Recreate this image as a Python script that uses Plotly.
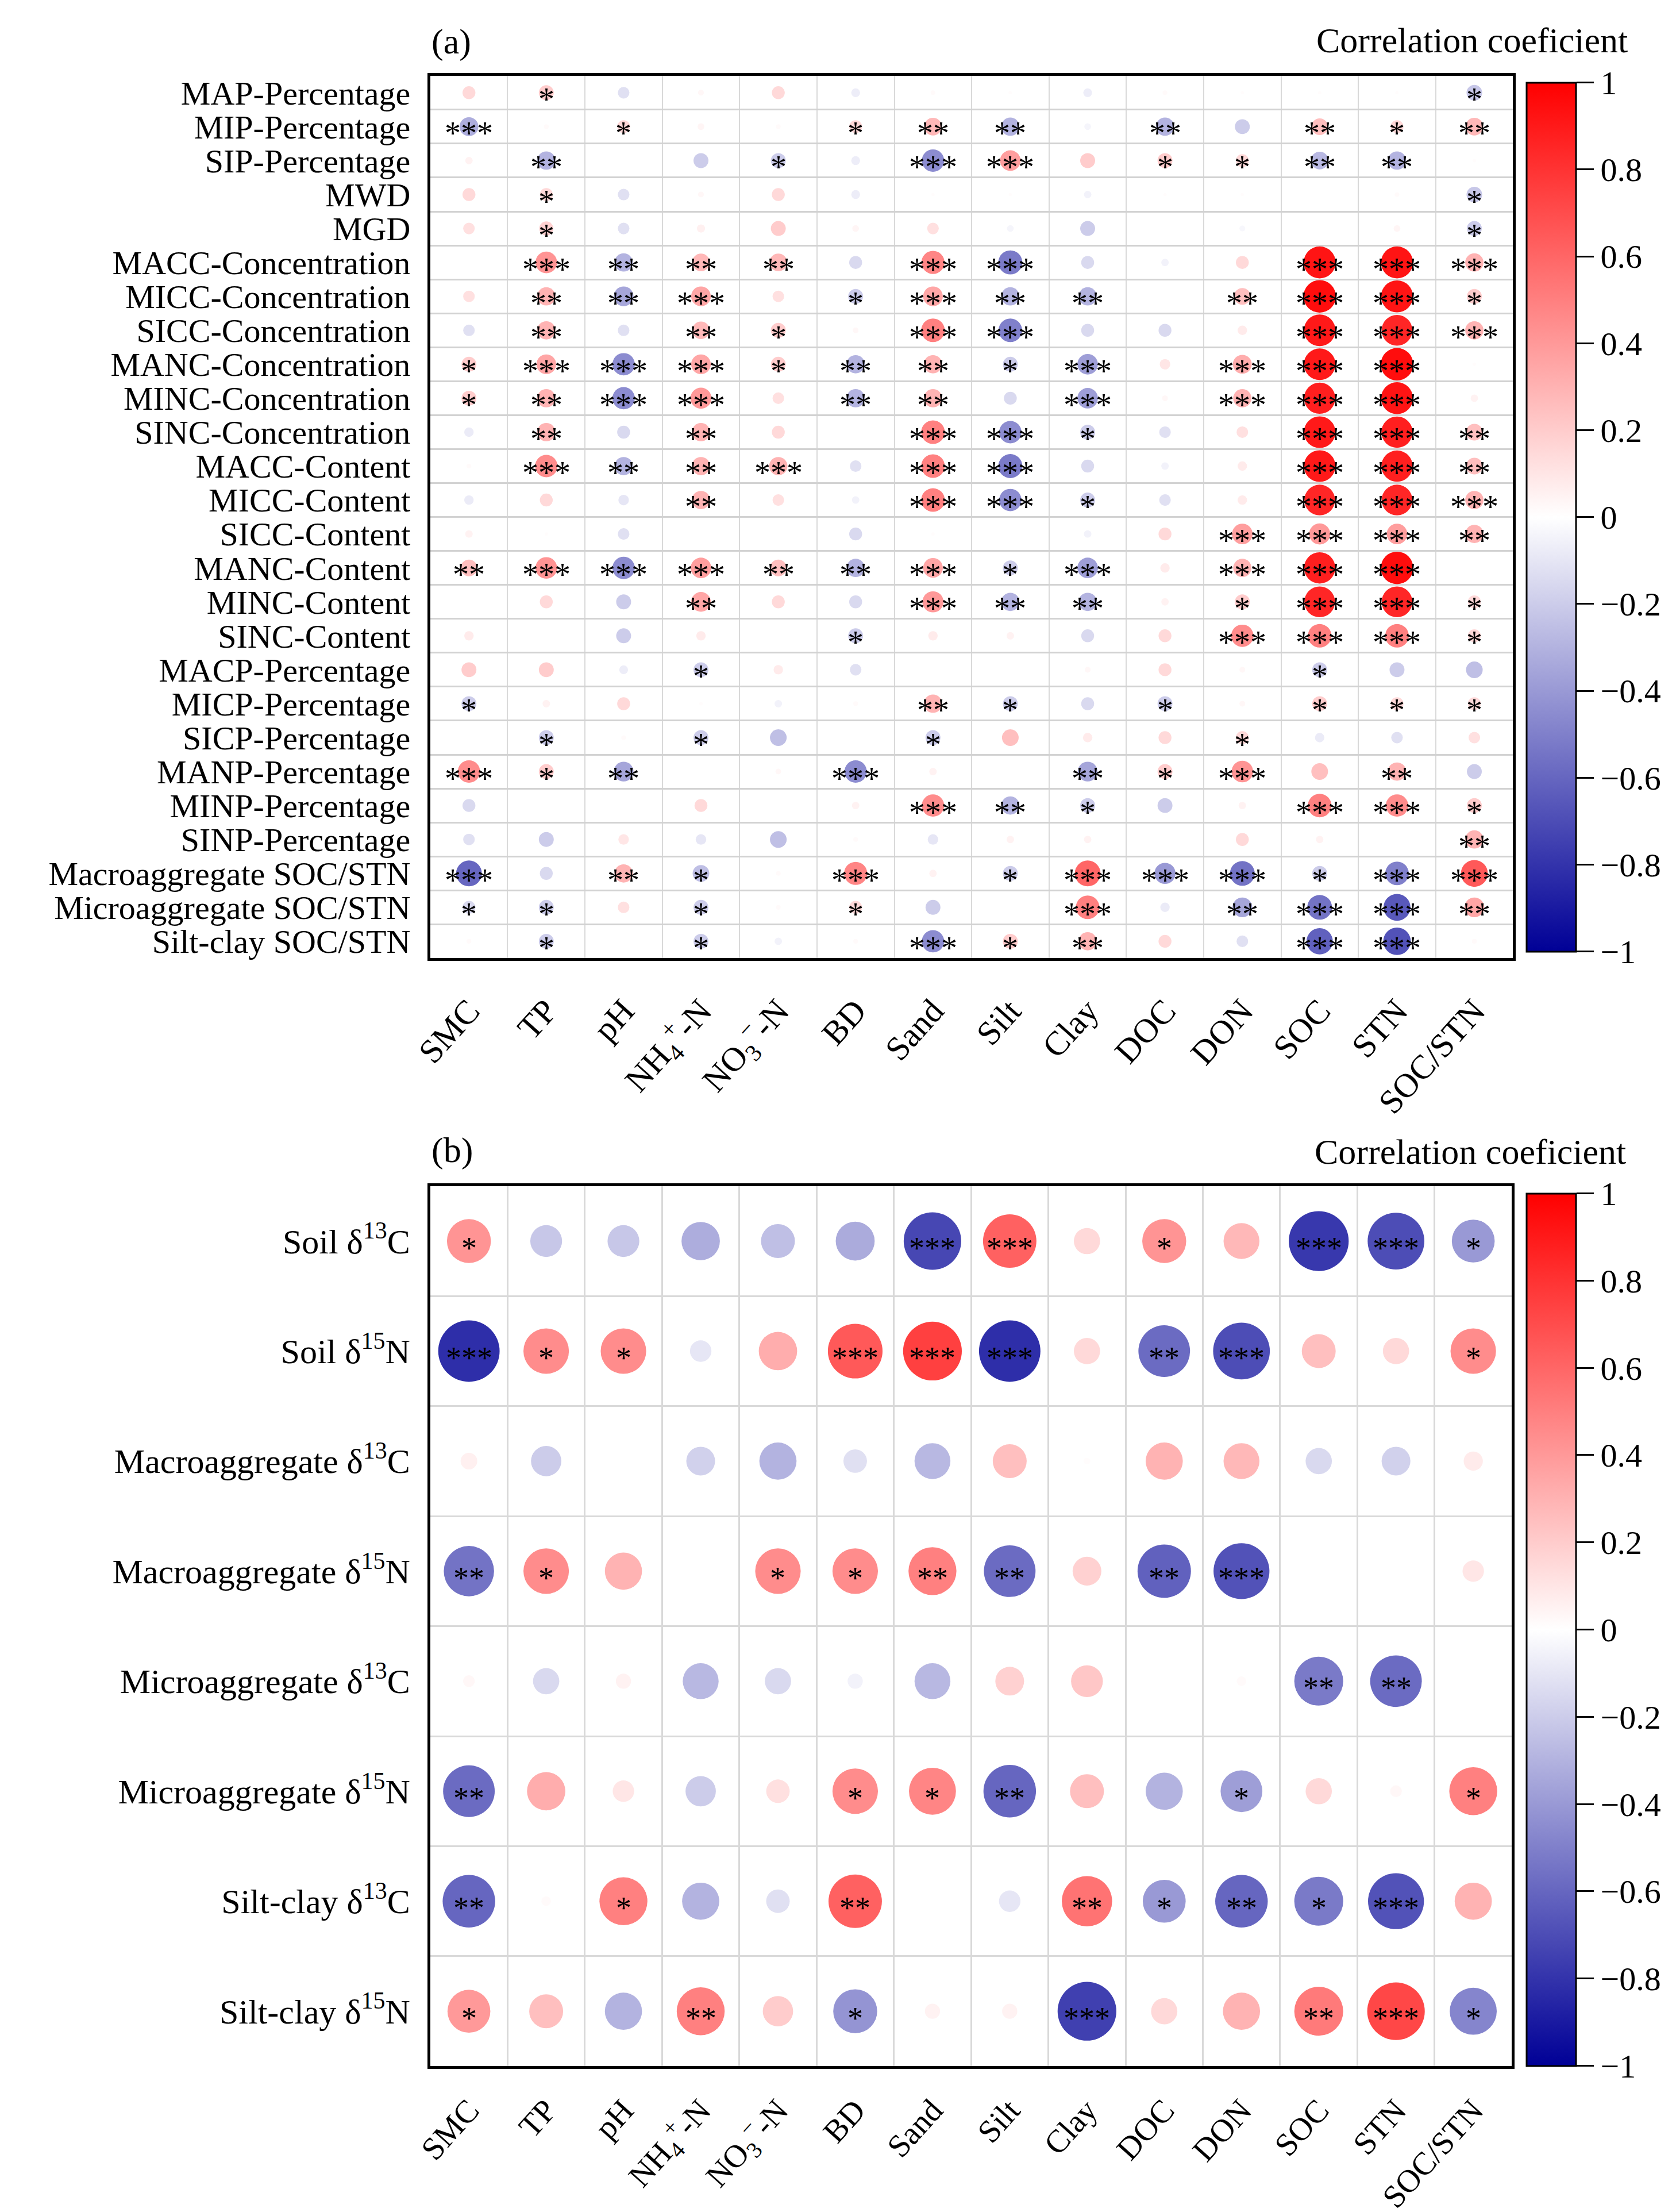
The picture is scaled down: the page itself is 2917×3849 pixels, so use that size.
import math
import plotly.graph_objects as go

W, H = 2917, 3849
FONT = "Liberation Serif"

# ---------------- data ----------------
x_labels = ["SMC", "TP", "pH", "NH<sub>4</sub><sup>+</sup>-N", "NO<sub>3</sub><sup>−</sup>-N", "BD",
            "Sand", "Silt", "Clay", "DOC", "DON", "SOC", "STN", "SOC/STN"]

rows_a = ["MAP-Percentage", "MIP-Percentage", "SIP-Percentage", "MWD", "MGD",
          "MACC-Concentration", "MICC-Concentration", "SICC-Concentration",
          "MANC-Concentration", "MINC-Concentration", "SINC-Concentration",
          "MACC-Content", "MICC-Content", "SICC-Content", "MANC-Content",
          "MINC-Content", "SINC-Content", "MACP-Percentage", "MICP-Percentage",
          "SICP-Percentage", "MANP-Percentage", "MINP-Percentage", "SINP-Percentage",
          "Macroaggregate SOC/STN", "Microaggregate SOC/STN", "Silt-clay SOC/STN"]

# correlation coefficients, panel (a), one list per row
a01 = [0.15, 0.2, -0.12, 0.03, 0.15, -0.07, 0.02, 0.01, -0.07, 0.02, 0.01, 0.01, 0.01, -0.22]
a02 = [-0.32, 0.02, 0.15, 0.04, 0.02, 0.15, 0.28, -0.3, -0.04, -0.3, -0.2, 0.25, 0.15, 0.28]
a03 = [0.05, -0.3, 0.0, -0.2, -0.2, -0.07, -0.45, 0.38, 0.2, 0.2, 0.15, -0.28, -0.3, 0.01]
a04 = [0.15, 0.15, -0.12, 0.03, 0.15, -0.07, 0.01, 0.01, -0.05, 0.01, 0.01, 0.0, 0.02, -0.22]
a05 = [0.12, 0.18, -0.12, 0.06, 0.2, 0.04, 0.12, -0.04, -0.2, 0.0, -0.03, 0.0, 0.04, -0.2]
a06 = [0.0, 0.42, -0.3, 0.28, 0.28, -0.15, 0.48, -0.52, -0.15, -0.05, 0.15, 0.92, 0.92, 0.3]
a07 = [0.12, 0.3, -0.35, 0.35, 0.12, -0.2, 0.35, -0.3, -0.3, 0.0, 0.25, 0.95, 0.92, 0.2]
a08 = [-0.12, 0.3, -0.12, 0.28, 0.2, 0.03, 0.5, -0.5, -0.15, -0.15, 0.08, 0.9, 0.85, 0.3]
a09 = [0.2, 0.35, -0.45, 0.35, 0.2, -0.3, 0.3, -0.2, -0.38, 0.1, 0.32, 0.9, 0.95, 0.01]
a10 = [0.2, 0.3, -0.45, 0.4, 0.12, -0.3, 0.3, -0.15, -0.38, 0.03, 0.3, 0.88, 0.92, 0.05]
a11 = [-0.08, 0.3, -0.15, 0.3, 0.15, 0.0, 0.5, -0.45, -0.2, -0.12, 0.12, 0.9, 0.88, 0.25]
a12 = [0.02, 0.45, -0.3, 0.3, 0.3, -0.12, 0.5, -0.52, -0.15, -0.05, 0.08, 0.9, 0.88, 0.25]
a13 = [-0.08, 0.15, -0.1, 0.3, 0.12, -0.05, 0.5, -0.45, -0.2, -0.12, 0.08, 0.85, 0.85, 0.3]
a14 = [0.05, 0.01, -0.12, 0.0, 0.0, -0.15, 0.01, 0.0, -0.05, 0.15, 0.38, 0.4, 0.38, 0.3]
a15 = [0.25, 0.42, -0.45, 0.38, 0.25, -0.3, 0.35, -0.2, -0.38, 0.08, 0.3, 0.88, 0.95, 0.0]
a16 = [0.0, 0.15, -0.2, 0.35, 0.15, -0.15, 0.4, -0.3, -0.3, 0.05, 0.2, 0.85, 0.85, 0.15]
a17 = [0.08, 0.0, -0.2, 0.08, 0.0, -0.2, 0.08, 0.05, -0.15, 0.15, 0.45, 0.5, 0.5, 0.15]
a18 = [0.2, 0.2, -0.07, -0.2, 0.08, -0.12, 0.0, 0.0, 0.03, 0.15, 0.03, -0.2, -0.2, -0.25]
a19 = [-0.2, 0.05, 0.15, 0.01, -0.05, 0.02, 0.3, -0.2, -0.15, -0.2, 0.03, 0.2, 0.15, 0.15]
a20 = [0.0, -0.2, 0.02, -0.2, -0.25, 0.0, -0.2, 0.25, 0.08, 0.15, 0.15, -0.08, -0.12, 0.12]
a21 = [0.45, 0.2, -0.35, 0.0, 0.03, -0.45, 0.05, 0.0, -0.35, 0.2, 0.42, 0.25, 0.3, -0.2]
a22 = [-0.15, 0.0, 0.0, 0.15, 0.0, 0.05, 0.45, -0.3, -0.2, -0.2, 0.05, 0.5, 0.45, 0.2]
a23 = [-0.12, -0.2, 0.1, -0.1, -0.25, 0.02, -0.1, 0.05, 0.05, 0.0, 0.15, 0.05, 0.0, 0.3]
a24 = [-0.6, -0.15, 0.3, -0.25, 0.02, 0.48, 0.05, -0.2, 0.6, -0.4, -0.55, -0.2, -0.5, 0.65]
a25 = [-0.15, -0.2, 0.12, -0.2, 0.02, 0.15, -0.2, 0.0, 0.5, -0.08, -0.35, -0.55, -0.65, 0.35]
a26 = [0.02, -0.2, 0.0, -0.2, -0.05, 0.02, -0.45, 0.2, 0.3, 0.15, -0.12, -0.62, -0.68, 0.02]

# significance level (number of asterisks), panel (a)
s01 = [0, 1, 0, 0, 0, 0, 0, 0, 0, 0, 0, 0, 0, 1]
s02 = [3, 0, 1, 0, 0, 1, 2, 2, 0, 2, 0, 2, 1, 2]
s03 = [0, 2, 0, 0, 1, 0, 3, 3, 0, 1, 1, 2, 2, 0]
s04 = [0, 1, 0, 0, 0, 0, 0, 0, 0, 0, 0, 0, 0, 1]
s05 = [0, 1, 0, 0, 0, 0, 0, 0, 0, 0, 0, 0, 0, 1]
s06 = [0, 3, 2, 2, 2, 0, 3, 3, 0, 0, 0, 3, 3, 3]
s07 = [0, 2, 2, 3, 0, 1, 3, 2, 2, 0, 2, 3, 3, 1]
s08 = [0, 2, 0, 2, 1, 0, 3, 3, 0, 0, 0, 3, 3, 3]
s09 = [1, 3, 3, 3, 1, 2, 2, 1, 3, 0, 3, 3, 3, 0]
s10 = [1, 2, 3, 3, 0, 2, 2, 0, 3, 0, 3, 3, 3, 0]
s11 = [0, 2, 0, 2, 0, 0, 3, 3, 1, 0, 0, 3, 3, 2]
s12 = [0, 3, 2, 2, 3, 0, 3, 3, 0, 0, 0, 3, 3, 2]
s13 = [0, 0, 0, 2, 0, 0, 3, 3, 1, 0, 0, 3, 3, 3]
s14 = [0, 0, 0, 0, 0, 0, 0, 0, 0, 0, 3, 3, 3, 2]
s15 = [2, 3, 3, 3, 2, 2, 3, 1, 3, 0, 3, 3, 3, 0]
s16 = [0, 0, 0, 2, 0, 0, 3, 2, 2, 0, 1, 3, 3, 1]
s17 = [0, 0, 0, 0, 0, 1, 0, 0, 0, 0, 3, 3, 3, 1]
s18 = [0, 0, 0, 1, 0, 0, 0, 0, 0, 0, 0, 1, 0, 0]
s19 = [1, 0, 0, 0, 0, 0, 2, 1, 0, 1, 0, 1, 1, 1]
s20 = [0, 1, 0, 1, 0, 0, 1, 0, 0, 0, 1, 0, 0, 0]
s21 = [3, 1, 2, 0, 0, 3, 0, 0, 2, 1, 3, 0, 2, 0]
s22 = [0, 0, 0, 0, 0, 0, 3, 2, 1, 0, 0, 3, 3, 1]
s23 = [0, 0, 0, 0, 0, 0, 0, 0, 0, 0, 0, 0, 0, 2]
s24 = [3, 0, 2, 1, 0, 3, 0, 1, 3, 3, 3, 1, 3, 3]
s25 = [1, 1, 0, 1, 0, 1, 0, 0, 3, 0, 2, 3, 3, 2]
s26 = [0, 1, 0, 1, 0, 0, 3, 1, 2, 0, 0, 3, 3, 0]

rows_b = ["Soil δ<sup>13</sup>C", "Soil δ<sup>15</sup>N", "Macroaggregate δ<sup>13</sup>C",
          "Macroaggregate δ<sup>15</sup>N", "Microaggregate δ<sup>13</sup>C",
          "Microaggregate δ<sup>15</sup>N", "Silt-clay δ<sup>13</sup>C", "Silt-clay δ<sup>15</sup>N"]

b1 = [0.42, -0.22, -0.22, -0.32, -0.25, -0.33, -0.72, 0.62, 0.15, 0.42, 0.28, -0.78, -0.7, -0.4]
b2 = [-0.82, 0.45, 0.45, -0.1, 0.32, 0.65, 0.75, -0.82, 0.15, -0.58, -0.7, 0.25, 0.15, 0.45]
b3 = [0.06, -0.2, 0.0, -0.18, -0.3, -0.12, -0.28, 0.25, 0.01, 0.3, 0.28, -0.15, -0.18, 0.08]
b4 = [-0.55, 0.45, 0.3, 0.0, 0.45, 0.45, 0.5, -0.58, 0.18, -0.62, -0.68, 0.0, 0.0, 0.1]
b5 = [0.03, -0.15, 0.05, -0.28, -0.15, -0.05, -0.28, 0.18, 0.22, 0.0, 0.02, -0.52, -0.58, 0.0]
b6 = [-0.58, 0.32, 0.1, -0.2, 0.12, 0.45, 0.48, -0.6, 0.25, -0.3, -0.38, 0.15, 0.03, 0.5]
b7 = [-0.6, 0.02, 0.5, -0.3, -0.12, 0.62, 0.0, -0.1, 0.55, -0.4, -0.6, -0.52, -0.68, 0.3]
b8 = [0.4, 0.25, -0.3, 0.5, 0.2, -0.42, 0.05, 0.05, -0.75, 0.15, 0.3, 0.52, 0.72, -0.48]

t1 = [1, 0, 0, 0, 0, 0, 3, 3, 0, 1, 0, 3, 3, 1]
t2 = [3, 1, 1, 0, 0, 3, 3, 3, 0, 2, 3, 0, 0, 1]
t3 = [0, 0, 0, 0, 0, 0, 0, 0, 0, 0, 0, 0, 0, 0]
t4 = [2, 1, 0, 0, 1, 1, 2, 2, 0, 2, 3, 0, 0, 0]
t5 = [0, 0, 0, 0, 0, 0, 0, 0, 0, 0, 0, 2, 2, 0]
t6 = [2, 0, 0, 0, 0, 1, 1, 2, 0, 0, 1, 0, 0, 1]
t7 = [2, 0, 1, 0, 0, 2, 0, 0, 2, 1, 2, 1, 3, 0]
t8 = [1, 0, 0, 2, 0, 1, 0, 0, 3, 0, 0, 2, 3, 1]

cbar_ticks = [1, 0.8, 0.6, 0.4, 0.2, 0, -0.2, -0.4, -0.6, -0.8, -1]

vals_a = [a01, a02, a03, a04, a05, a06, a07, a08, a09, a10, a11, a12, a13,
          a14, a15, a16, a17, a18, a19, a20, a21, a22, a23, a24, a25, a26]
sigs_a = [s01, s02, s03, s04, s05, s06, s07, s08, s09, s10, s11, s12, s13,
          s14, s15, s16, s17, s18, s19, s20, s21, s22, s23, s24, s25, s26]
vals_b = [b1, b2, b3, b4, b5, b6, b7, b8]
sigs_b = [t1, t2, t3, t4, t5, t6, t7, t8]


# ---------------- styling ----------------
def px(xpix):
    """pixel from left -> paper fraction"""
    return xpix / W


def py(ypix):
    """pixel from top -> paper fraction"""
    return 1 - ypix / H


COLORSCALE = [[0.0, "rgb(0,0,150)"], [0.5, "rgb(255,255,255)"], [1.0, "rgb(255,0,0)"]]

fig = go.Figure()


def add_panel(vals, sigs, xref, yref, diam, cb_top, cb_bot, star_size, star_shift):
    xs, ys, cs, ss = [], [], [], []
    for i, row in enumerate(vals):
        for j, v in enumerate(row):
            xs.append(j)
            ys.append(i)
            cs.append(v)
            ss.append(math.sqrt(abs(v)) * diam)   # circle area proportional to |r|
    fig.add_trace(go.Scatter(
        x=xs, y=ys, mode="markers", xaxis=xref, yaxis=yref,
        hoverinfo="skip", showlegend=False,
        marker=dict(size=ss, sizemode="diameter", color=cs, cmin=-1, cmax=1,
                    colorscale=COLORSCALE, line=dict(width=0), opacity=1,
                    colorbar=dict(
                        x=px(2646), xanchor="left", y=(py(cb_top) + py(cb_bot)) / 2,
                        yanchor="middle", len=(cb_bot - cb_top) / H, lenmode="fraction",
                        thickness=86, outlinewidth=3, outlinecolor="black",
                        ticks="outside", ticklen=30, tickwidth=3, tickcolor="black",
                        tickvals=cbar_ticks, tickfont=dict(family=FONT, size=58, color="black"),
                        xpad=0, ypad=0))))
    for i, row in enumerate(sigs):
        for j, n in enumerate(row):
            if n > 0:
                fig.add_annotation(
                    x=j, y=i, xref=xref, yref=yref, text="*" * n, showarrow=False,
                    font=dict(family=FONT, size=star_size, color="black"),
                    yshift=star_shift)


add_panel(vals_a, sigs_a, "x", "y", 58, 134, 1648, 56, -12)
add_panel(vals_b, sigs_b, "x2", "y2", 118, 2070, 3590, 54, -12)

axis_common = dict(showline=True, mirror=True, linecolor="black", linewidth=5,
                   zeroline=False, showgrid=False, ticks="")
yfont_a = dict(family=FONT, size=58, color="black")
yfont_b = dict(family=FONT, size=60, color="black")
xfont_a = dict(family=FONT, size=59, color="black")
xfont_b = dict(family=FONT, size=56, color="black")

fig.update_layout(
    width=W, height=H, margin=dict(l=0, r=0, t=0, b=0),
    paper_bgcolor="white", plot_bgcolor="white",
    font=dict(family=FONT, color="black"),
    xaxis=dict(axis_common, domain=[px(716), px(2622)], anchor="y",
               range=[-0.5, 13.5], tickmode="array", tickvals=list(range(len(x_labels))),
               ticktext=x_labels, tickangle=-48, ticklabelstandoff=28, tickfont=xfont_a,
               minor=dict(tick0=0.5, dtick=1, showgrid=True, gridcolor="#d9d9d9", gridwidth=2, ticks="")),
    yaxis=dict(axis_common, domain=[py(1660), py(122)], anchor="x",
               range=[len(rows_a) - 0.5, -0.5], tickmode="array",
               tickvals=list(range(len(rows_a))), ticktext=rows_a, ticklabelstandoff=18,
               tickfont=yfont_a,
               minor=dict(tick0=0.5, dtick=1, showgrid=True, gridcolor="#d2d2d2", gridwidth=3, ticks="")),
    xaxis2=dict(axis_common, domain=[px(716), px(2620)], anchor="y2",
                range=[-0.5, 13.5], tickmode="array", tickvals=list(range(len(x_labels))),
                ticktext=x_labels, tickangle=-48, ticklabelstandoff=16, tickfont=xfont_b,
                minor=dict(tick0=0.5, dtick=1, showgrid=True, gridcolor="#d9d9d9", gridwidth=3, ticks="")),
    yaxis2=dict(axis_common, domain=[py(3591), py(2057)], anchor="x2",
                range=[len(rows_b) - 0.5, -0.5], tickmode="array",
                tickvals=list(range(len(rows_b))), ticktext=rows_b, ticklabelstandoff=18,
                tickfont=yfont_b,
                minor=dict(tick0=0.5, dtick=1, showgrid=True, gridcolor="#d9d9d9", gridwidth=3, ticks="")),
)

title_font = dict(family=FONT, size=62, color="black")
fig.add_annotation(x=px(716), y=py(63), xref="paper", yref="paper", text="(a)",
                   showarrow=False, xanchor="left", yanchor="middle", font=title_font)
fig.add_annotation(x=px(2826), y=py(60), xref="paper", yref="paper",
                   text="Correlation coeficient", showarrow=False, xanchor="right",
                   yanchor="middle", font=title_font)
fig.add_annotation(x=px(716), y=py(1995), xref="paper", yref="paper", text="(b)",
                   showarrow=False, xanchor="left", yanchor="middle", font=title_font)
fig.add_annotation(x=px(2823), y=py(1997), xref="paper", yref="paper",
                   text="Correlation coeficient", showarrow=False, xanchor="right",
                   yanchor="middle", font=title_font)

fig.write_html("out.html")
